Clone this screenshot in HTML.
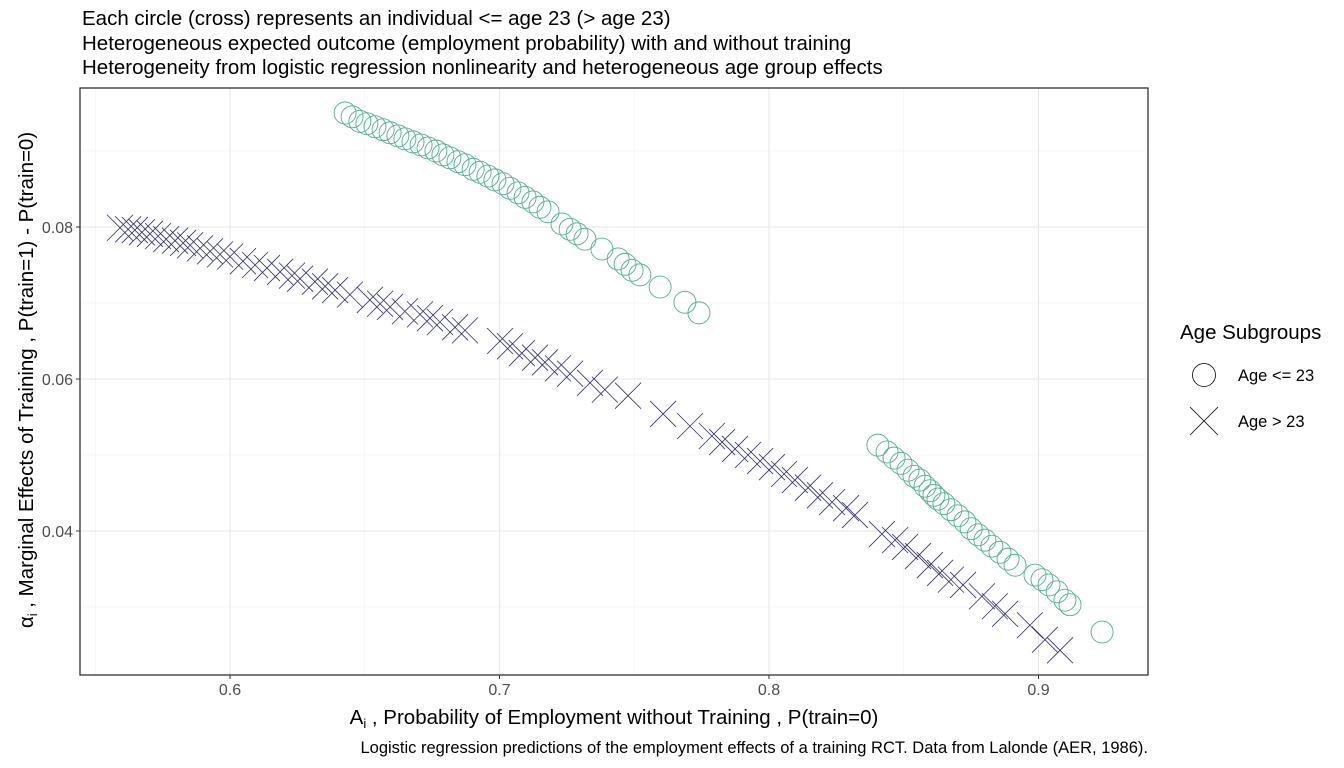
<!DOCTYPE html>
<html><head><meta charset="utf-8"><style>
body{margin:0;background:#fff;}
svg{display:block;font-family:"Liberation Sans",Arial,sans-serif;}
</style></head><body>
<svg id="chart" width="1344" height="768">
<g font-size="20.5" fill="#000">
<text x="82" y="25">Each circle (cross) represents an individual &lt;= age 23 (&gt; age 23)</text>
<text x="82" y="50">Heterogeneous expected outcome (employment probability) with and without training</text>
<text x="82" y="74">Heterogeneity from logistic regression nonlinearity and heterogeneous age group effects</text>
</g>
<g id="grid"></g>
<g id="marks"></g>
<rect x="80" y="88" width="1068" height="587" fill="none" stroke="#222" stroke-width="1.2"/>
<g id="ticks"></g>
<text x="614" y="724" text-anchor="middle" font-size="20.5">A<tspan font-size="13" dy="4">i</tspan><tspan dy="-4"> ,  Probability of Employment without Training , P(train=0)</tspan></text>
<text transform="translate(33,380) rotate(-90)" text-anchor="middle" font-size="20.5">α<tspan font-size="13" dy="4">i</tspan><tspan dy="-4"> , Marginal Effects of Training , P(train=1) - P(train=0)</tspan></text>
<text x="1148" y="753" text-anchor="end" font-size="16.5">Logistic regression predictions of the employment effects of a training RCT. Data from Lalonde (AER, 1986).</text>
<g>
<text x="1180" y="339" font-size="20.5">Age Subgroups</text>
<g>
<circle cx="1204" cy="375" r="11.5" fill="none" stroke="#000" stroke-width="0.8"/>
<text x="1238" y="381" font-size="16.5">Age &lt;= 23</text></g>
<g>
<path d="M1190 407 L1218 435 M1218 407 L1190 435" stroke="#000" stroke-width="0.8"/>
<text x="1238" y="427" font-size="16.5">Age &gt; 23</text></g>
</g>
</svg>
<script>
const xTicks=[0.6,0.7,0.8,0.9];
const yTicks=[0.04,0.06,0.08];
const youngX=[0.6427,0.6453,0.6482,0.6508,0.6538,0.6568,0.6594,0.6623,0.6649,0.6679,0.6709,0.6735,0.6764,0.6790,0.6816,0.6846,0.6872,0.6902,0.6928,0.6957,0.6983,0.7013,0.7039,0.7069,0.7095,0.7124,0.7150,0.7180,0.7232,0.7262,0.7288,0.7317,0.7380,0.7440,0.7466,0.7492,0.7521,0.7596,0.7688,0.7740,
0.8404,0.8438,0.8464,0.8490,0.8516,0.8538,0.8560,0.8579,0.8597,0.8612,0.8627,0.8649,0.8675,0.8701,0.8727,0.8750,0.8776,0.8801,0.8827,0.8857,0.8887,0.8913,0.8987,0.9013,0.9039,0.9069,0.9098,0.9117,0.9236];
const youngY=[0.0950,0.0945,0.0939,0.0936,0.0932,0.0928,0.0924,0.0920,0.0916,0.0912,0.0908,0.0904,0.0900,0.0895,0.0891,0.0886,0.0882,0.0876,0.0872,0.0867,0.0862,0.0857,0.0851,0.0845,0.0839,0.0833,0.0826,0.0820,0.0804,0.0797,0.0791,0.0784,0.0771,0.0758,0.0751,0.0743,0.0737,0.0721,0.0701,0.0687,
0.0513,0.0504,0.0496,0.0489,0.0480,0.0472,0.0467,0.0459,0.0453,0.0447,0.0442,0.0436,0.0428,0.0420,0.0412,0.0403,0.0395,0.0388,0.0380,0.0372,0.0363,0.0355,0.0342,0.0336,0.0329,0.0320,0.0309,0.0303,0.0267];
const oldX=[0.5592,0.5622,0.5647,0.5673,0.5703,0.5733,0.5763,0.5796,0.5826,0.5852,0.5889,0.5926,0.5963,0.6000,0.6048,0.6093,0.6137,0.6186,0.6230,0.6260,0.6315,0.6353,0.6390,0.6445,0.6519,0.6557,0.6594,0.6649,0.6705,0.6742,0.6779,0.6835,0.6872,0.7002,0.7039,0.7083,0.7132,0.7169,0.7217,0.7262,0.7336,0.7391,0.7477,0.7607,0.7707,0.7788,0.7826,0.7874,0.7922,0.7967,0.8011,0.8056,0.8096,0.8145,0.8189,0.8234,0.8286,0.8319,0.8419,0.8468,0.8505,0.8553,0.8597,0.8635,0.8675,0.8720,0.8790,0.8838,0.8876,0.8968,0.9024,0.9080];
const oldY=[0.0799,0.0797,0.0796,0.0793,0.0791,0.0788,0.0784,0.0782,0.0779,0.0776,0.0772,0.0768,0.0764,0.0761,0.0755,0.0750,0.0746,0.0741,0.0736,0.0732,0.0728,0.0722,0.0717,0.0711,0.0704,0.0699,0.0695,0.0689,0.0685,0.0680,0.0675,0.0668,0.0664,0.0650,0.0643,0.0634,0.0628,0.0622,0.0614,0.0607,0.0595,0.0586,0.0578,0.0554,0.0538,0.0525,0.0517,0.0508,0.0500,0.0492,0.0484,0.0475,0.0467,0.0457,0.0447,0.0438,0.0430,0.0421,0.0396,0.0388,0.0379,0.0367,0.0355,0.0345,0.0336,0.0329,0.0314,0.0301,0.0291,0.0276,0.0257,0.0243];

const NS='http://www.w3.org/2000/svg';
const sx=v=>230+(v-0.6)*2695;
const sy=v=>227-(v-0.08)*7600;
const X0=80,X1=1148,Y0=88,Y1=675;
function mk(tag,attrs,parent){const e=document.createElementNS(NS,tag);for(const k in attrs)e.setAttribute(k,attrs[k]);parent.appendChild(e);return e;}
const grid=document.getElementById('grid'),ticks=document.getElementById('ticks'),marks=document.getElementById('marks');
for(let i=0;i<xTicks.length+1;i++){const v=(i===0?xTicks[0]-0.05:xTicks[i-1]+0.05);const p=sx(v);if(p>X0&&p<X1){const l=mk('line',{x1:p,x2:p,y1:Y0,y2:Y1,stroke:'#f0f0f0','stroke-width':0.6},grid);

}}
for(let i=0;i<yTicks.length+1;i++){const v=(i===0?yTicks[0]-0.01:yTicks[i-1]+0.01);const p=sy(v);if(p>Y0&&p<Y1){const l=mk('line',{x1:X0,x2:X1,y1:p,y2:p,stroke:'#f0f0f0','stroke-width':0.6},grid);

}}
xTicks.forEach(v=>{const p=sx(v);
const l=mk('line',{x1:p,x2:p,y1:Y0,y2:Y1,stroke:'#e6e6e6','stroke-width':1.1},grid);


mk('line',{x1:p,x2:p,y1:Y1,y2:Y1+4,stroke:'#333'},ticks);
const t=mk('text',{x:p,y:Y1+20,'text-anchor':'middle','font-size':16,fill:'#4d4d4d'},ticks);t.textContent=String(v);

});
yTicks.forEach(v=>{const p=sy(v);
const l=mk('line',{x1:X0,x2:X1,y1:p,y2:p,stroke:'#e6e6e6','stroke-width':1.1},grid);


mk('line',{x1:X0-4,x2:X0,y1:p,y2:p,stroke:'#333'},ticks);
const t=mk('text',{x:X0-7,y:p+6,'text-anchor':'end','font-size':16,fill:'#4d4d4d'},ticks);t.textContent=v.toFixed(2);

});
oldX.forEach((v,i)=>{const cx=sx(v),cy=sy(oldY[i]),r=13;
const p=mk('path',{d:`M${cx-r} ${cy-r}L${cx+r} ${cy+r}M${cx+r} ${cy-r}L${cx-r} ${cy+r}`,stroke:'#2e2a72','stroke-width':0.8,fill:'none'},marks);

});
youngX.forEach((v,i)=>{
const c=mk('circle',{cx:sx(v),cy:sy(youngY[i]),r:11,fill:'none',stroke:'#4fae97','stroke-width':0.9},marks);

});
</script>
</body></html>
